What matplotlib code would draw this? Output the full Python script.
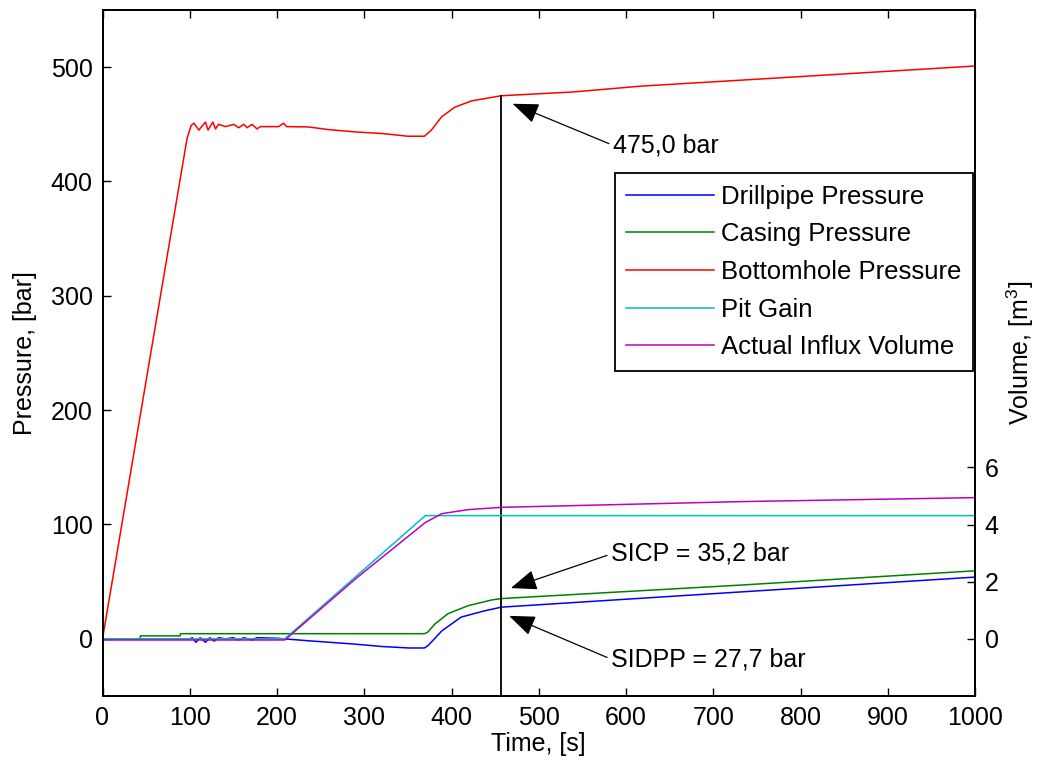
import matplotlib.pyplot as plt
import matplotlib as mpl

mpl.rcParams['font.family'] = ['Liberation Sans', 'DejaVu Sans']
mpl.rcParams['font.size'] = 18
mpl.rcParams['mathtext.fontset'] = 'custom'
mpl.rcParams['mathtext.rm'] = 'Liberation Sans'

# bottomhole pressure [bar]
t_bhp = [0, 97, 101.7, 104.7, 110.5, 118, 121, 126.5, 129.5, 133, 141, 150.5, 156, 162,
         165.7, 171.4, 177, 181, 202, 207.6, 211, 236, 259, 289, 320, 350, 369, 377,
         388.6, 403.8, 423, 457, 541, 617, 731, 1000]
p_bhp = [0, 438, 449, 451, 445, 452, 445, 452, 446, 450, 448, 450, 447, 450,
         447, 450, 446, 448, 448, 451, 448, 447.7, 445.4, 443.4, 442, 439.6, 439.6, 445,
         456.5, 465, 470.5, 475.0, 478.4, 483.4, 488.6, 501]

# drillpipe pressure [bar]
t_dp = [0, 100, 103, 107, 112, 118, 123, 128, 133, 141, 150, 156, 162, 171, 177, 200,
        208, 236, 289, 320, 351, 369, 373, 389, 411, 438, 457, 731, 1000]
p_dp = [0, 0, 1, -3, 1, -3, 1, -2, 1, 0, 1, -1, 1, -1, 1, 0.5,
        0, -1.7, -4.6, -6.7, -8, -8, -6, 7, 19, 24.5, 27.7, 41, 54]

# casing pressure [bar]
t_cp = [0, 43, 43.5, 89, 89.5, 369, 373, 381, 396, 419, 446, 457, 731, 1000]
p_cp = [0, 0, 2.6, 2.6, 4.5, 4.5, 6, 13, 22, 29, 34, 35.2, 47, 59.5]

# pit gain and actual influx volume [m3]
t_pit = [0, 209, 370, 1000]
v_pit = [0, 0, 4.31, 4.31]
t_inf = [0, 209, 290, 370, 389, 419, 457, 731, 1000]
v_inf = [-0.04, -0.04, 2.1, 4.07, 4.38, 4.52, 4.6, 4.8, 4.94]

# values read at shut-in
t_mark = 457
bhp_mark = 475.0
sicp = 35.2
sidpp = 27.7


def bar(v):
    return ('%.1f' % v).replace('.', ',')


fig = plt.figure(figsize=(10.39, 7.71), dpi=100)
ax = fig.add_axes([102.5 / 1039, 75 / 771, 872.5 / 1039, 686 / 771])
ax2 = ax.twinx()

l1, = ax.plot(t_dp, p_dp, color='#0000ff', lw=1.1)
l2, = ax.plot(t_cp, p_cp, color='#008000', lw=1.1)
l3, = ax.plot(t_bhp, p_bhp, color='#ff0000', lw=1.1)
l4, = ax2.plot(t_pit, v_pit, color='#00bfbf', lw=1.1)
l5, = ax2.plot(t_inf, v_inf, color='#bf00bf', lw=1.1)

ax.plot([t_mark, t_mark], [bhp_mark, -50], color='black', lw=1.3, clip_on=False)

ax.set_xlim(0, 1000)
ax.set_ylim(-50, 550)
ax2.set_ylim(-2, 22)
ax.set_xticks(range(0, 1001, 100))
ax.set_yticks(range(0, 501, 100))
ax2.set_yticks([0, 2, 4, 6])

ax.tick_params(direction='in', length=6, width=1, top=True, pad=7)
ax2.tick_params(direction='in', length=6, width=1, pad=7)
for a in (ax, ax2):
    for s in a.spines.values():
        s.set_linewidth(1.3)

ax.set_xlabel('Time, [s]', labelpad=2)
ax.set_ylabel('Pressure, [bar]', labelpad=10)
ax2.set_ylabel('Volume, [m$^3$]', labelpad=4)

arrow = dict(arrowstyle='-|>,head_length=0.9,head_width=0.35', color='black',
             lw=0.9, shrinkA=1, shrinkB=0, relpos=(0, 0.5))
ax.annotate(bar(bhp_mark) + ' bar', xy=(470, 468), xytext=(585, 431.7),
            va='center', ha='left', arrowprops=arrow)
ax.annotate('SICP = ' + bar(sicp) + ' bar', xy=(468, 44.4), xytext=(583, 74.2),
            va='center', ha='left', arrowprops=arrow)
ax.annotate('SIDPP = ' + bar(sidpp) + ' bar', xy=(466, 20.1), xytext=(583, -17.8),
            va='center', ha='left', arrowprops=arrow)

leg = ax2.legend([l1, l2, l3, l4, l5],
                 ['Drillpipe Pressure', 'Casing Pressure', 'Bottomhole Pressure',
                  'Pit Gain', 'Actual Influx Volume'],
                 loc='upper right', bbox_to_anchor=(0.998, 0.762), borderaxespad=0,
                 fancybox=False, framealpha=1, edgecolor='black', fontsize=18.5,
                 handlelength=3.4, handletextpad=0.3, labelspacing=0.53,
                 borderpad=0.45)
leg.get_frame().set_linewidth(1.3)

fig.savefig('out.png', dpi=100)
